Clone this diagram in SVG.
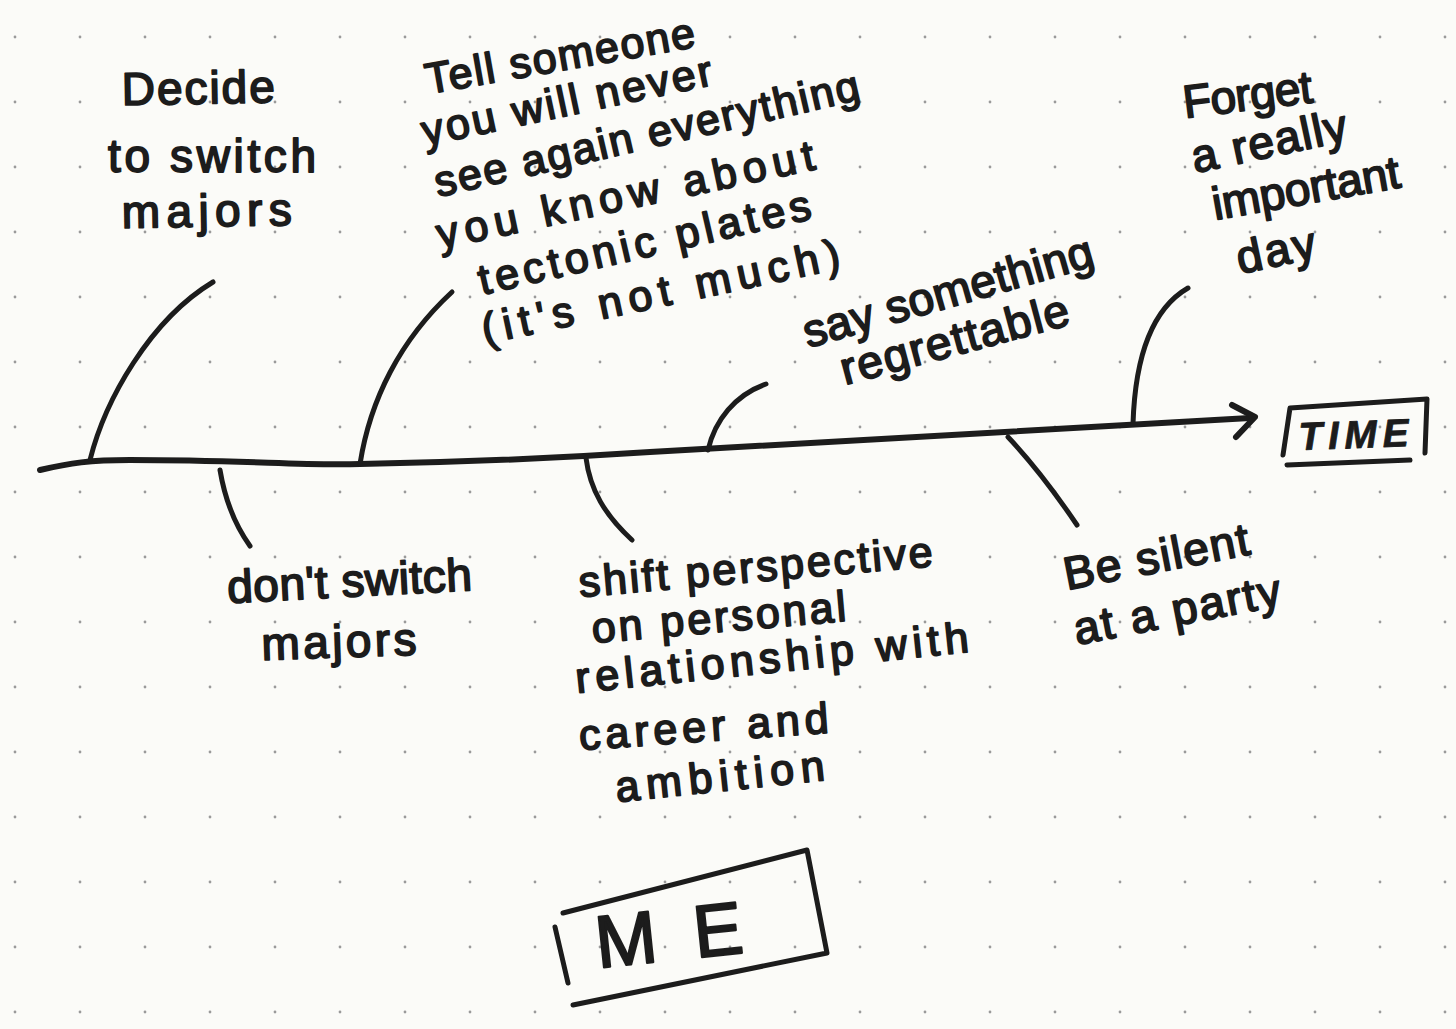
<svg xmlns="http://www.w3.org/2000/svg" width="1456" height="1029" viewBox="0 0 1456 1029">
  <defs>
    <pattern id="dots" patternUnits="userSpaceOnUse" x="-17" y="5" width="65" height="65">
      <circle cx="32" cy="32" r="1.4" fill="#9a9a9a"/>
    </pattern>
    <style>
      .ink { fill: none; stroke: #1c1c1c; stroke-width: 5; stroke-linecap: round; stroke-linejoin: round; }
      .spine { stroke-width: 6; }
      .hand { font-family: "Liberation Sans", "DejaVu Sans", sans-serif; font-size: 46px; fill: #1c1c1c; stroke: #1c1c1c; stroke-width: 1.8; stroke-linejoin: round; }
      .mid { font-size: 43px; }
      .big { font-size: 74px; stroke-width: 2.2; }
      .time { font-size: 39px; font-style: italic; font-weight: bold; stroke-width: 0.8; }
    </style>
  </defs>

  <rect x="0" y="0" width="1456" height="1029" fill="#fbfbf8"/>
  <rect x="0" y="0" width="1456" height="1029" fill="url(#dots)"/>

  <g id="connectors">
    <path class="ink spine" d="M40,470 C70,463 90,460 130,460 C250,460 300,466 360,464 C480,462 560,458 650,452 C800,444 1000,434 1250,418"/>
    <path class="ink spine" d="M1232,405 L1255,417 L1236,437"/>
    <path class="ink" d="M90,460 C105,400 150,320 213,282"/>
    <path class="ink" d="M360,464 C370,400 400,340 452,292"/>
    <path class="ink" d="M708,450 C715,420 735,395 766,384"/>
    <path class="ink" d="M1133,424 C1135,360 1150,310 1188,288"/>
    <path class="ink" d="M220,470 C225,500 235,525 250,546"/>
    <path class="ink" d="M586,458 C590,490 605,515 632,540"/>
    <path class="ink" d="M1008,437 C1025,455 1050,485 1077,525"/>
  </g>

  <g id="node-decide">
    <text class="hand" transform="translate(122,105) rotate(-1)" textLength="153">Decide</text>
    <text class="hand" transform="translate(108,172)" textLength="208">to switch</text>
    <text class="hand" transform="translate(122,228) rotate(-1)" textLength="170">majors</text>
  </g>

  <g id="node-tell">
    <text class="hand mid" transform="translate(428,94) rotate(-10)" textLength="273">Tell someone</text>
    <text class="hand mid" transform="translate(425,146) rotate(-12)" textLength="296">you will never</text>
    <text class="hand mid" transform="translate(438,197) rotate(-13)" textLength="435">see again everything</text>
    <text class="hand mid" transform="translate(440,249) rotate(-12)" textLength="385">you know about</text>
    <text class="hand mid" transform="translate(482,295) rotate(-13)" textLength="340">tectonic plates</text>
    <text class="hand mid" transform="translate(485,344) rotate(-12)" textLength="365">(it's not much)</text>
  </g>

  <g id="node-say">
    <text class="hand" transform="translate(808,348) rotate(-16)" textLength="300">say something</text>
    <text class="hand" transform="translate(845,385) rotate(-15)" textLength="235">regrettable</text>
  </g>

  <g id="node-forget">
    <text class="hand" transform="translate(1185,118) rotate(-7)" textLength="130">Forget</text>
    <text class="hand" transform="translate(1195,173) rotate(-12)" textLength="158">a really</text>
    <text class="hand" transform="translate(1215,220) rotate(-10)" textLength="190">important</text>
    <text class="hand" transform="translate(1240,274) rotate(-12)" textLength="80">day</text>
  </g>

  <g id="node-dont">
    <text class="hand" transform="translate(228,603) rotate(-3)" textLength="245">don't switch</text>
    <text class="hand" transform="translate(262,660) rotate(-2)" textLength="155">majors</text>
  </g>

  <g id="node-shift">
    <text class="hand mid" transform="translate(580,597) rotate(-5)" textLength="355">shift perspective</text>
    <text class="hand mid" transform="translate(593,643) rotate(-5)" textLength="255">on personal</text>
    <text class="hand mid" transform="translate(577,693) rotate(-6)" textLength="395">relationship with</text>
    <text class="hand mid" transform="translate(580,750) rotate(-4)" textLength="250">career and</text>
    <text class="hand mid" transform="translate(617,802) rotate(-6)" textLength="210">ambition</text>
  </g>

  <g id="node-silent">
    <text class="hand" transform="translate(1067,590) rotate(-11)" textLength="188">Be silent</text>
    <text class="hand" transform="translate(1077,645) rotate(-11)" textLength="210">at a party</text>
  </g>

  <g id="node-time">
    <path class="ink" d="M1283,455 L1290,408 L1427,399 L1425,453"/>
    <path class="ink" d="M1287,465 L1410,460"/>
    <text class="hand time" transform="translate(1299,450) rotate(-2)" textLength="110">TIME</text>
  </g>

  <g id="node-me">
    <path class="ink" d="M563,913 L807,850 L827,953 L573,1005"/>
    <path class="ink" d="M555,927 L568,983"/>
    <text class="hand big" transform="translate(598,968) rotate(-6)" textLength="148">ME</text>
  </g>
</svg>
